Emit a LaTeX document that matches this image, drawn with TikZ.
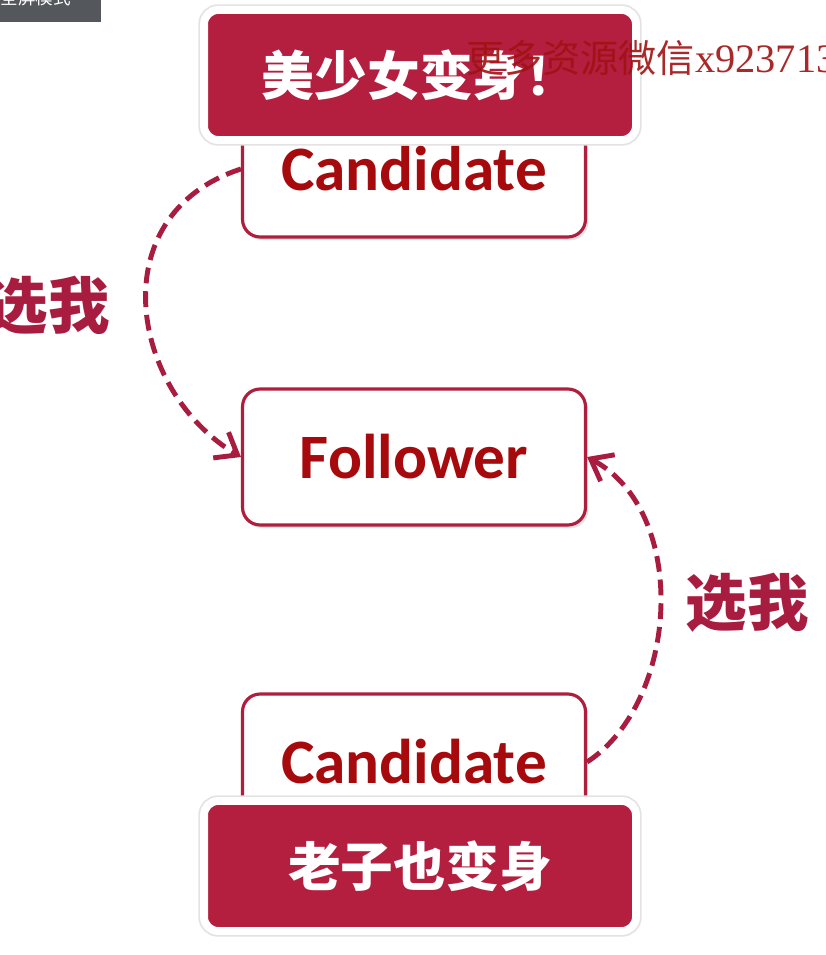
\documentclass[tikz,border=0pt]{standalone}
\usepackage{fontspec}
\setmainfont{Carlito}
\newfontfamily\cjk{Noto Sans CJK SC}
\newfontfamily\wmserif{Liberation Serif}
\usetikzlibrary{arrows.meta, shadows}
\definecolor{boxred}{HTML}{B01E3E}
\definecolor{textred}{HTML}{A60A0C}
\definecolor{bannerred}{HTML}{B41E3F}
\definecolor{arcred}{HTML}{A81C40}
\definecolor{wmred}{HTML}{A01212}
\definecolor{bargray}{HTML}{54585C}

\begin{document}
\begin{tikzpicture}[x=0.02cm, y=-0.02cm,
    rolebox/.style={draw=boxred, line width=1.8pt, fill=white, rounded corners=10pt,
        minimum width=6.86cm, minimum height=2.72cm, text=textred,
        font=\bfseries\fontsize{36}{40}\selectfont,
        drop shadow={shadow xshift=1.5pt, shadow yshift=-1.8pt, opacity=0.22}},
    banner/.style={draw=white, line width=4.5pt, fill=bannerred, rounded corners=8pt,
        minimum width=8.64cm, minimum height=2.6cm, text=white,
        font=\cjk\bfseries\fontsize{30}{34}\selectfont,
        preaction={draw=black!11, line width=6.5pt},
        drop shadow={shadow xshift=1pt, shadow yshift=-1.8pt, opacity=0.2}},
    vote/.style={draw=arcred, line width=2.8pt, dash pattern=on 9pt off 4.5pt,
        -{Straight Barb[length=11pt, width=17pt]}},
    votelabel/.style={text=arcred, font=\cjk\bfseries\fontsize{35}{40}\selectfont}]
    \clip (0,0) rectangle (825,955);
    \fill[white] (0,0) rectangle (825,955);
    % screen bar in the corner
    \fill[bargray] (0,0) rectangle (101,22);
    \node[text=white, font=\cjk\fontsize{10}{12}\selectfont] (bar) at (36,-2) {全屏模式};
    % the three roles
    \node[rolebox] (cand1) at (414,169) {Candidate};
    \node[rolebox] (follow) at (414,457) {Follower};
    \node[rolebox] (cand2) at (414,762) {Candidate};
    \node[banner] (morph1) at (420,75) {美少女变身！};
    \node[banner] (morph2) at (420,866) {老子也变身};
    % votes
    \draw[vote] (cand1.west) .. controls +(-141,46) and +(-111,-66) .. (follow.west);
    \draw[vote] (cand2.east) .. controls +(92,-60) and +(103,55) .. (follow.east);
    \node[votelabel] (vote1) at (48,306) {选我};
    \node[votelabel] (vote2) at (747,603) {选我};
    % watermark
    \node[anchor=base west, text=wmred, opacity=0.9, inner sep=0pt,
        font=\cjk\fontsize{21.7}{26}\selectfont] (mark) at (466,73)
        {更多资源微信{\wmserif\fontsize{23}{26}\selectfont x923713}};
\end{tikzpicture}
\end{document}
